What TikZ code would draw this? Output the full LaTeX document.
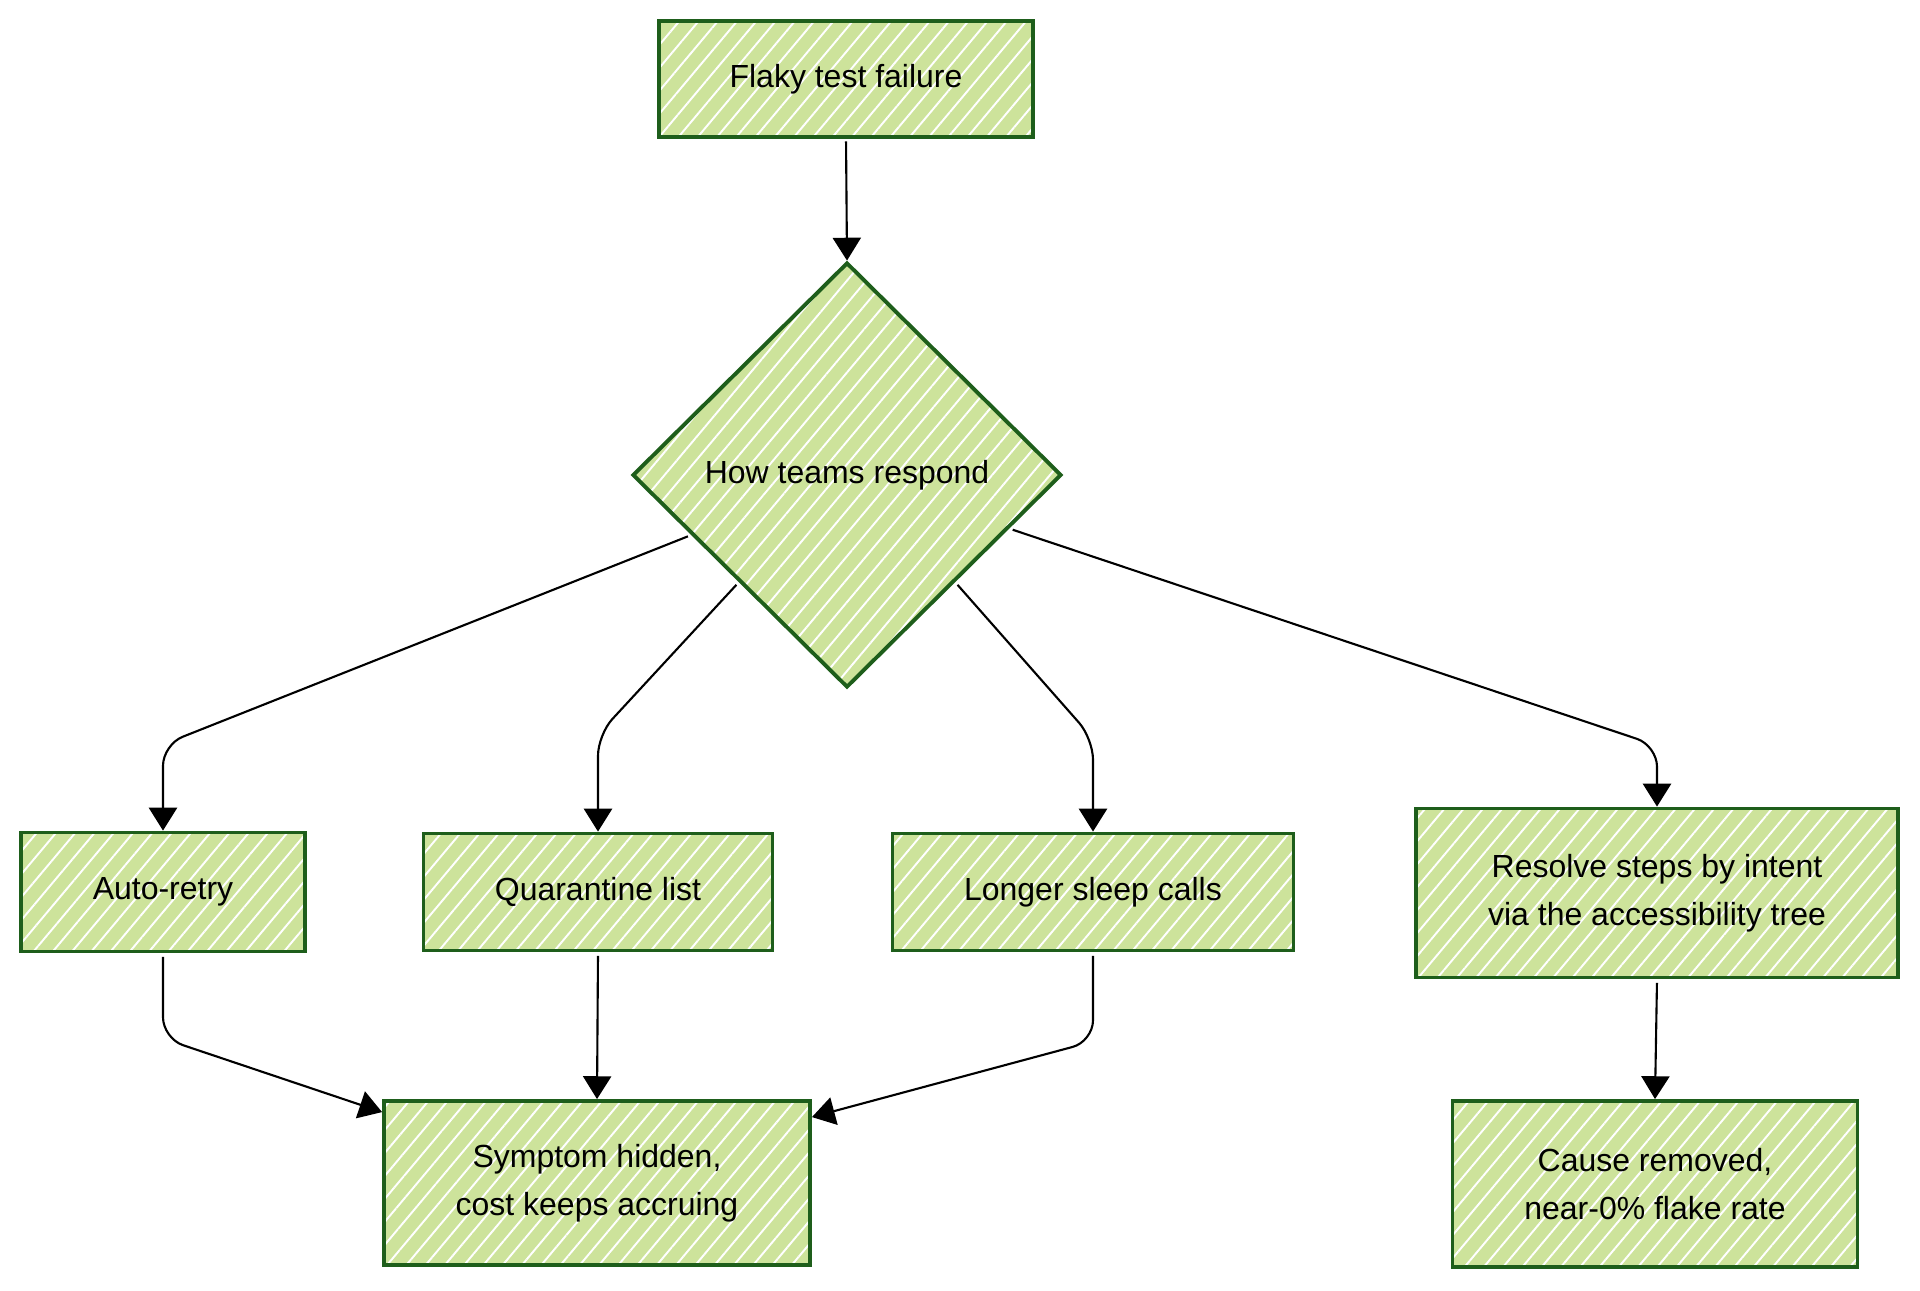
\documentclass[tikz,border=0pt]{standalone}
\usepackage{fontspec}
\setmainfont{Liberation Sans}
\usepackage{tikz}
\usetikzlibrary{arrows.meta,positioning,shapes.geometric,calc,patterns.meta}
\definecolor{cLeaf}{HTML}{CDE39B}
\definecolor{cEdge}{HTML}{1E5E1B}
\tikzset{
  sketch/.style={draw=cEdge, line width=1.1pt, preaction={fill=cLeaf},
                 pattern={Lines[angle=50,distance=4.2pt,line width=0.55pt]}, pattern color=white},
  box/.style   ={sketch, rectangle, align=center, inner sep=0pt},
  choice/.style={sketch, diamond, aspect=1, align=center, inner sep=0pt},
  arrow/.style ={-{Triangle[length=6.5pt,width=8pt]}, line width=0.6pt, draw=black,
                 rounded corners=6pt, shorten <=1pt},
}

\begin{document}
\begin{tikzpicture}[every node/.style={font=\fontsize{9.1pt}{13.7pt}\selectfont}]
  \useasboundingbox (0,0) rectangle (19.2,-12.9);
  % trigger and decision
  \node[box, minimum width=3.74cm, minimum height=1.16cm] (flaky) at (8.46,-0.79) {Flaky test failure};
  \node[choice, minimum width=4.29cm, minimum height=4.25cm] (respond) at (8.47,-4.75) {How teams respond};
  % the four responses
  \node[box, minimum width=2.84cm, minimum height=1.19cm] (retry) at (1.63,-8.92) {Auto-retry};
  \node[box, minimum width=3.49cm, minimum height=1.17cm] (quar) at (5.98,-8.92) {Quarantine list};
  \node[box, minimum width=4.01cm, minimum height=1.17cm] (sleep) at (10.93,-8.92) {Longer sleep calls};
  \node[box, minimum width=4.82cm, minimum height=1.69cm] (intent) at (16.57,-8.93)
    {Resolve steps by intent\\via the accessibility tree};
  % outcomes
  \node[box, minimum width=4.26cm, minimum height=1.64cm] (hidden) at (5.97,-11.83)
    {Symptom hidden,\\cost keeps accruing};
  \node[box, minimum width=4.05cm, minimum height=1.66cm] (removed) at (16.55,-11.84)
    {Cause removed,\\near-0\% flake rate};
  % connectors
  \draw[arrow] (flaky.south) -- (respond.north);
  \draw[arrow] ($(respond.west)!0.28!(respond.south)$) -- ([yshift=0.86cm]retry.north) -- (retry.north);
  \draw[arrow] (respond.south west) -- ([yshift=0.97cm]quar.north) -- (quar.north);
  \draw[arrow] (respond.south east) -- ([yshift=0.93cm]sleep.north) -- (sleep.north);
  \draw[arrow] ($(respond.east)!0.25!(respond.south)$) -- ([yshift=0.61cm]intent.north) -- (intent.north);
  \draw[arrow] (retry.south) -- ([yshift=-0.85cm]retry.south) -- ([yshift=-0.13cm]hidden.north west);
  \draw[arrow] (quar.south) -- (hidden.north);
  \draw[arrow] (sleep.south) -- ([yshift=-0.89cm]sleep.south) -- ([yshift=-0.18cm]hidden.north east);
  \draw[arrow] (intent.south) -- (removed.north);
\end{tikzpicture}
\end{document}
